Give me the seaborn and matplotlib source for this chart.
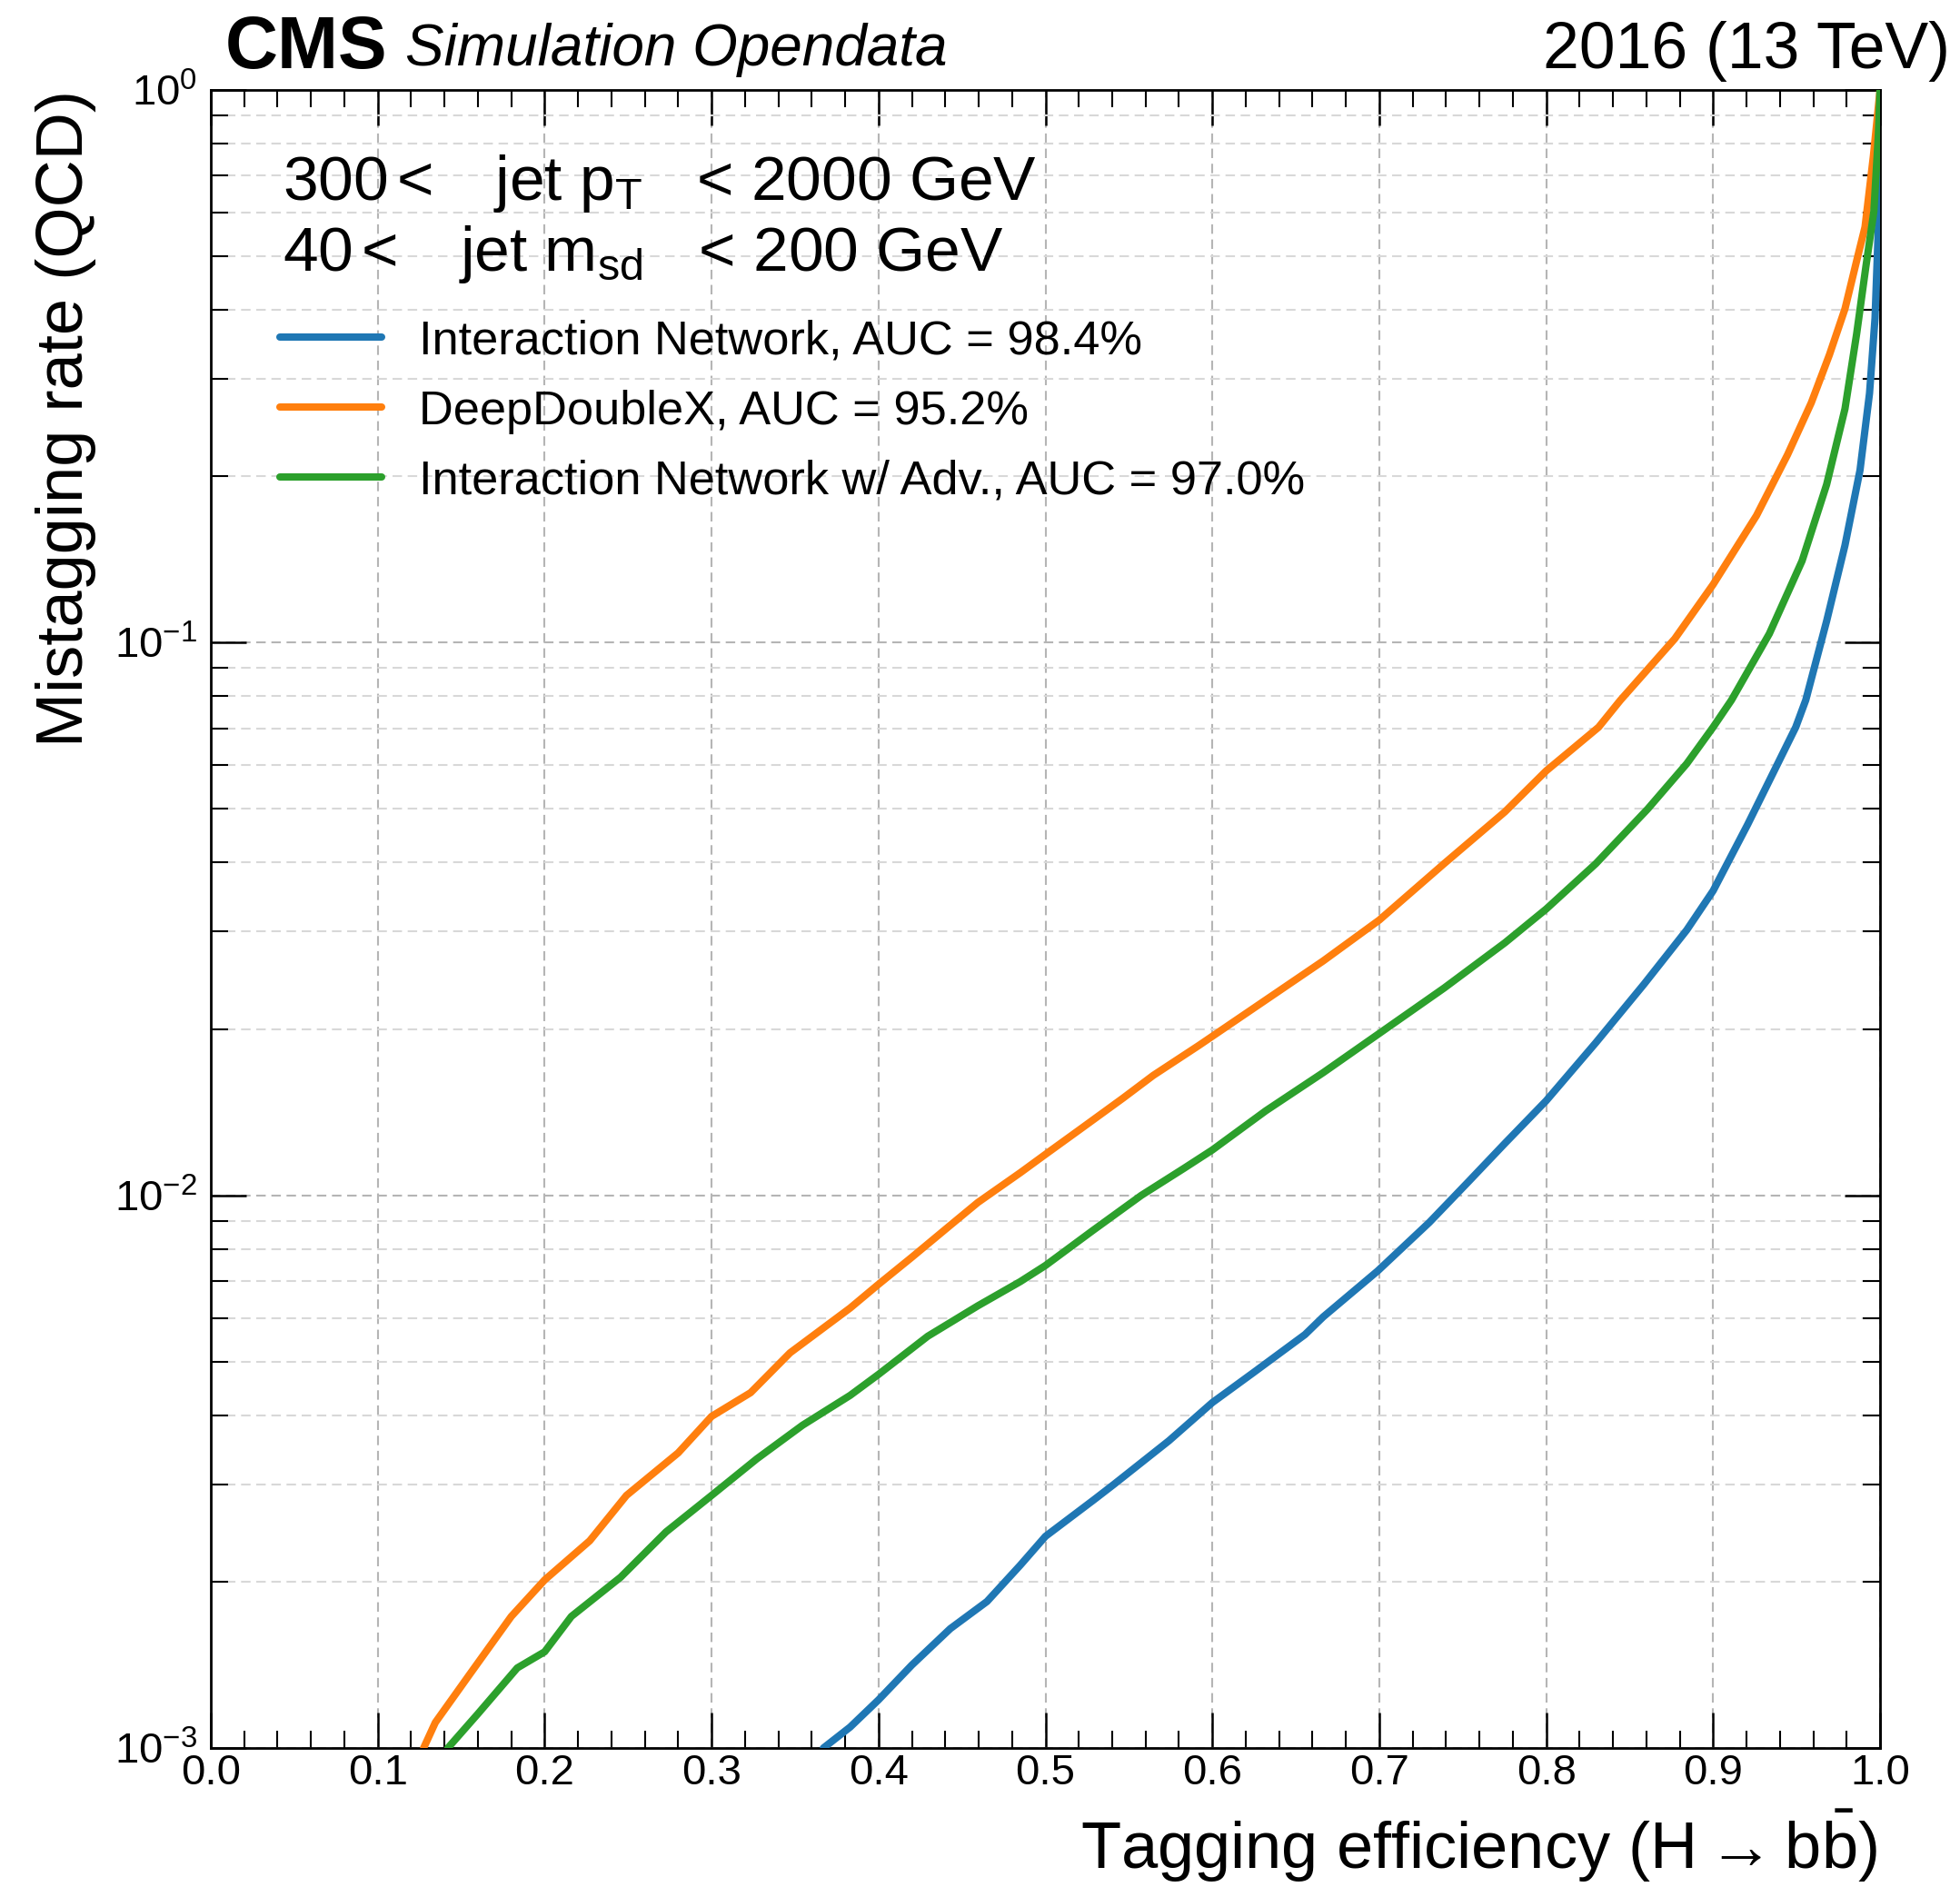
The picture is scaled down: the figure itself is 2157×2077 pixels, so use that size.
import numpy as np
import pandas as pd
import matplotlib
matplotlib.use("Agg")
import matplotlib.pyplot as plt
import seaborn as sns
from matplotlib.ticker import LogLocator, MultipleLocator, AutoMinorLocator, NullFormatter

# ROC curves: H->bb tagging efficiency vs QCD mistagging rate
in_eff = [0.367, 0.383, 0.400, 0.420, 0.443, 0.465, 0.485, 0.500, 0.529, 0.541,
          0.574, 0.600, 0.6245, 0.6555, 0.6664, 0.699, 0.730, 0.7535, 0.7753, 0.800,
          0.8297, 0.8586, 0.8842, 0.900, 0.9207, 0.9387, 0.9495, 0.9555, 0.968, 0.979,
          0.988, 0.9937, 0.997, 0.999, 1.0]
in_mis = [0.00100, 0.001091, 0.001222, 0.001413, 0.001644, 0.001841, 0.002143, 0.002415, 0.002812, 0.002999,
          0.003597, 0.004217, 0.004775, 0.005598, 0.006026, 0.007295, 0.008933, 0.01059, 0.01242, 0.01483,
          0.01888, 0.02410, 0.03020, 0.03556, 0.04688, 0.06039, 0.07031, 0.07870, 0.1094, 0.1500,
          0.2051, 0.2825, 0.3864, 0.5649, 1.0]

ddx_eff = [0.1275, 0.1345, 0.155, 0.180, 0.200, 0.227, 0.249, 0.280, 0.300, 0.3234,
           0.347, 0.383, 0.400, 0.420, 0.4415, 0.4595, 0.485, 0.500, 0.521, 0.5466,
           0.5646, 0.5918, 0.6664, 0.700, 0.7388, 0.7753, 0.800, 0.8314, 0.8445, 0.877,
           0.900, 0.926, 0.9446, 0.9588, 0.9697, 0.979, 0.986, 0.991, 0.996, 1.0]
ddx_mis = [0.00100, 0.001112, 0.001358, 0.001730, 0.002014, 0.002371, 0.002864, 0.003420, 0.003981, 0.004395,
           0.005188, 0.006252, 0.006902, 0.007727, 0.008750, 0.009705, 0.01099, 0.01186, 0.01318, 0.01500,
           0.01648, 0.01866, 0.02655, 0.03148, 0.03981, 0.04943, 0.05861, 0.07031, 0.07870, 0.1016,
           0.1274, 0.1698, 0.2188, 0.2716, 0.3319, 0.4018, 0.4909, 0.5649, 0.7586, 1.0]

adv_eff = [0.142, 0.160, 0.1836, 0.200, 0.216, 0.2455, 0.2727, 0.300, 0.327, 0.3545,
           0.383, 0.400, 0.4295, 0.4595, 0.485, 0.500, 0.5287, 0.5575, 0.583, 0.600,
           0.632, 0.6664, 0.700, 0.7388, 0.7753, 0.800, 0.8297, 0.8608, 0.8842, 0.900,
           0.911, 0.9337, 0.9533, 0.968, 0.979, 0.986, 0.9915, 0.9963, 0.999, 1.0]
adv_mis = [0.00100, 0.001153, 0.001396, 0.001493, 0.001730, 0.002037, 0.002460, 0.002864, 0.003334, 0.003837,
           0.004345, 0.004742, 0.005559, 0.006310, 0.006982, 0.007464, 0.008650, 0.01000, 0.01119, 0.01208,
           0.01422, 0.01667, 0.01963, 0.02371, 0.02864, 0.03296, 0.03981, 0.05000, 0.06039, 0.07031,
           0.07870, 0.1038, 0.1406, 0.1932, 0.2649, 0.3622, 0.4786, 0.6026, 0.8318, 1.0]

series_labels = ["Interaction Network, AUC = 98.4%",
                 "DeepDoubleX, AUC = 95.2%",
                 "Interaction Network w/ Adv., AUC = 97.0%"]
series_colors = ["#1f77b4", "#ff7f0e", "#2ca02c"]

sns.set_style("ticks")
plt.rcParams["font.family"] = ["Liberation Sans", "DejaVu Sans"]
plt.rcParams["mathtext.fontset"] = "custom"
plt.rcParams["mathtext.rm"] = "Liberation Sans"
plt.rcParams["mathtext.it"] = "Liberation Sans:italic"
plt.rcParams["mathtext.bf"] = "Liberation Sans:bold"
for key in ["text.color", "axes.labelcolor", "xtick.color", "ytick.color", "axes.edgecolor"]:
    plt.rcParams[key] = "black"

W, H = 2157, 2077
fig = plt.figure(figsize=(W / 100, H / 100), dpi=100)
ax = fig.add_axes([232 / W, 1 - 1924 / H, (2069 - 232) / W, (1924 - 99) / H])

curves = [(in_eff, in_mis), (ddx_eff, ddx_mis), (adv_eff, adv_mis)]
for (x, y), lab, col in zip(curves, series_labels, series_colors):
    df = pd.DataFrame({"eff": x, "mis": y})
    sns.lineplot(data=df, x="eff", y="mis", ax=ax, color=col, lw=5.8,
                 label=lab, sort=False, estimator=None, zorder=3)

ax.set_yscale("log")
ax.set_xlim(0, 1)
ax.set_ylim(1e-3, 1)
ax.set_xlabel("")
ax.set_ylabel("")

ax.xaxis.set_major_locator(MultipleLocator(0.1))
ax.xaxis.set_minor_locator(AutoMinorLocator(5))
ax.xaxis.set_major_formatter(matplotlib.ticker.FormatStrFormatter("%.1f"))
ax.yaxis.set_major_locator(LogLocator(base=10, numticks=10))
ax.yaxis.set_minor_locator(LogLocator(base=10, subs=np.arange(2, 10), numticks=20))
ax.yaxis.set_minor_formatter(NullFormatter())

ax.tick_params(which="both", direction="in", top=True, right=True,
               labelsize=34, colors="black")
ax.tick_params(which="major", length=28, width=1.8)
ax.tick_params(which="minor", length=14, width=1.5)
ax.tick_params(axis="x", which="major", pad=4)
ax.tick_params(axis="y", which="major", pad=11)
for s in ax.spines.values():
    s.set_linewidth(2.0)
    s.set_visible(True)
    s.set_color("black")

ax.grid(which="major", axis="both", color="#b5b5b5", ls=(0, (5, 3)), lw=1.5, zorder=0)
ax.grid(which="minor", axis="y", color="#d8d8d8", ls=(0, (5, 3)), lw=1.5, zorder=0)
ax.set_axisbelow(True)

leg = ax.legend(loc="upper left", bbox_to_anchor=(0.0414, 0.8615), frameon=False,
                fontsize=37.7, handlelength=2.14, handletextpad=0.78,
                labelspacing=0.53, borderpad=0, borderaxespad=0)

# selection text
ax.text(0.043, 0.9337, r"300$\,$<   $\,$jet $\mathrm{p_T}$   < 2000 GeV", transform=ax.transAxes,
        fontsize=50, va="baseline", ha="left")
ax.text(0.043, 0.891, r"40$\,$<   $\,$jet $\mathrm{m_{sd}}$   < 200 GeV", transform=ax.transAxes,
        fontsize=50, va="baseline", ha="left")

# experiment labels
fig.text(248 / W, 1 - 75 / H, "CMS", fontsize=58, fontweight="bold", ha="left", va="baseline")
fig.text(446 / W, 1 - 72 / H, "Simulation Opendata", fontsize=46, fontstyle="italic",
         ha="left", va="baseline")
fig.text(2146 / W, 1 - 75 / H, "2016 (13 TeV)", fontsize=51.5, ha="right", va="baseline")

# axis titles
fig.text(2066 / W, 1 - 2057 / H, r"Tagging efficiency ($\mathrm{H} \rightarrow \mathrm{b\bar{b}}$)",
         fontsize=52, ha="right", va="baseline")
fig.text(91 / W, 1 - 99 / H, "Mistagging rate (QCD)", fontsize=52, rotation=90,
         rotation_mode="anchor", ha="right", va="baseline")

fig.savefig("out.png", dpi=100)
